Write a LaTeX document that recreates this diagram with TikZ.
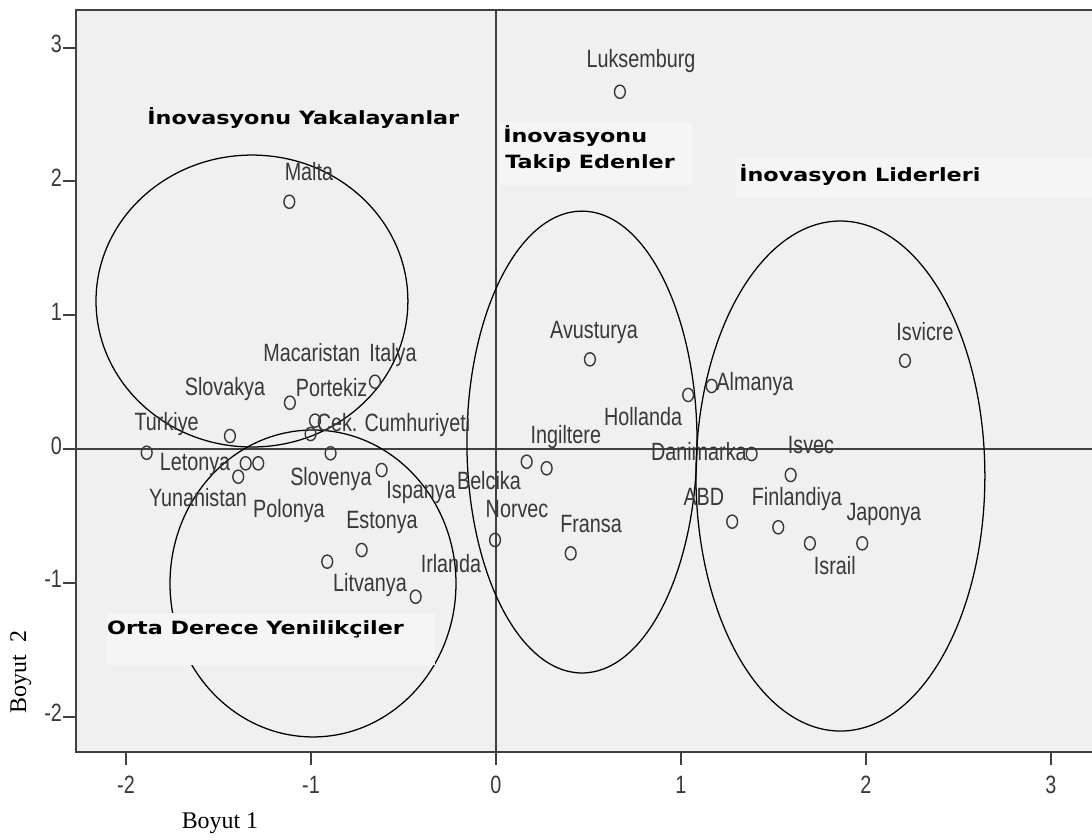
\documentclass[tikz,border=0pt]{standalone}
\usepackage{fontspec}
\setmainfont{Liberation Serif}
\newfontfamily\ptfont[FakeStretch=0.79]{Liberation Sans}
\newfontfamily\grpfont[FakeStretch=1.22]{DejaVu Sans}
\usetikzlibrary{shapes.geometric}
\definecolor{plotbg}{HTML}{F0F0F0}
\definecolor{boxbg}{HTML}{F5F5F5}
\definecolor{axisgray}{HTML}{404040}
\definecolor{ptgray}{HTML}{383838}
\begin{document}
\begin{tikzpicture}[x=4.625cm,y=3.345cm,
  ptmark/.style={draw=ptgray,line width=1pt,ellipse,inner sep=0pt,minimum width=0.27cm,minimum height=0.33cm},
  ptlabel/.style={text=ptgray,inner sep=0pt,text height=0.716em,text depth=0pt,font=\ptfont\fontsize{17.8}{20}\selectfont},
  grplabel/.style={inner sep=0pt,anchor=base west,font=\grpfont\bfseries\fontsize{13}{15}\selectfont},
  grpring/.style={black,line width=0.9pt},
  refline/.style={axisgray,line width=1.8pt},
  frameline/.style={axisgray,line width=1.4pt}]
  \useasboundingbox (-2.681,-2.915) rectangle (3.222,3.356);
  \clip (-2.681,-2.915) rectangle (3.222,3.356);
  % plot area
  \fill[plotbg] (-2.270,-2.265) rectangle (3.3,3.281);
  \draw[frameline] (3.3,3.281) -- (-2.270,3.281) -- (-2.270,-2.265) -- (3.3,-2.265);
  \foreach \t in {-2,...,3} {
    \draw[frameline] (\t,-2.265) -- (\t,-2.36);
    \node[ptlabel] (xt\t) at (\t,-2.534) {\t};
  }
  \foreach \t in {-2,...,3} {
    \draw[frameline] (-2.270,\t) -- (-2.340,\t);
    \node[ptlabel,anchor=east] (yt\t) at (-2.345,\t) {\t};
  }
  % reference lines
  \draw[refline] (-2.270,0) -- (3.3,0);
  \draw[refline] (0,3.281) -- (0,-2.36);
  % groups
  \draw[grpring] (-1.319,1.106) ellipse [x radius=0.843, y radius=1.091];
  \draw[grpring] (-0.989,-1.005) ellipse [x radius=0.773, y radius=1.147];
  \draw[grpring] (0.465,0.052) ellipse [x radius=0.622, y radius=1.726];
  \draw[grpring] (1.862,-0.202) ellipse [x radius=0.781, y radius=1.906];
  % countries
  \foreach \px/\py/\lx/\ly/\txt [count=\i] in {
    0.670/2.670/0.784/2.892/Luksemburg,
    -1.117/1.848/-1.011/2.048/Malta,
    -0.654/0.503/-0.557/0.690/Italya,
    -1.114/0.346/-0.996/0.690/Macaristan,
    -1.438/0.097/-1.465/0.441/Slovakya,
    -0.978/0.212/-0.888/0.428/Portekiz,
    -1.002/0.112/-0.554/0.167/Cek. Cumhuriyeti,
    -1.888/-0.028/-1.780/0.179/Turkiye,
    -0.894/-0.032/-0.892/-0.232/Slovenya,
    -1.353/-0.107/-1.627/-0.120/Letonya,
    -1.285/-0.107/-1.119/-0.478/Polonya,
    -1.393/-0.207/-1.611/-0.394/Yunanistan,
    -0.618/-0.157/-0.405/-0.329/Ispanya,
    -0.726/-0.755/-0.616/-0.553/Estonya,
    -0.912/-0.842/-0.681/-1.031/Litvanya,
    -0.434/-1.104/-0.243/-0.889/Irlanda,
    0.508/0.670/0.530/0.867/Avusturya,
    1.166/0.471/1.400/0.478/Almanya,
    1.039/0.404/0.795/0.217/Hollanda,
    0.166/-0.095/0.378/0.082/Ingiltere,
    0.274/-0.144/-0.038/-0.262/Belcika,
    -0.005/-0.680/0.114/-0.478/Norvec,
    0.404/-0.780/0.514/-0.583/Fransa,
    1.382/-0.037/1.097/-0.045/Danimarka,
    1.277/-0.543/1.124/-0.381/ABD,
    1.593/-0.194/1.703/0.007/Isvec,
    1.526/-0.585/1.627/-0.381/Finlandiya,
    1.697/-0.705/1.832/-0.897/Israil,
    1.980/-0.705/2.097/-0.493/Japonya,
    2.211/0.660/2.319/0.852/Isvicre} {
    \node[ptmark] (p\i) at (\px,\py) {};
    \node[ptlabel] (l\i) at (\lx,\ly) {\txt};
  }
  % group titles
  \fill[boxbg] (0.022,2.444) rectangle (1.059,1.973);
  \fill[boxbg] (1.300,2.175) rectangle (3.3,1.883);
  \fill[boxbg] (-2.103,-1.226) rectangle (-0.330,-1.614);
  \node[grplabel] (yakala) at (-1.886,2.422) {İnovasyonu Yakalayanlar};
  \node[grplabel] (takipa) at (0.038,2.294) {İnovasyonu};
  \node[grplabel] (takipb) at (0.049,2.093) {Takip Edenler};
  \node[grplabel] (lider) at (1.314,1.998) {İnovasyon Liderleri};
  \node[grplabel] (orta) at (-2.103,-1.390) {Orta Derece Yenilikçiler};
  % axis titles
  \node[font=\fontsize{17}{20}\selectfont] (xtitle) at (-1.492,-2.795) {Boyut 1};
  \node[font=\fontsize{17}{20}\selectfont,rotate=90] (ytitle) at (-2.568,-1.667) {Boyut\ \ 2};
\end{tikzpicture}
\end{document}
